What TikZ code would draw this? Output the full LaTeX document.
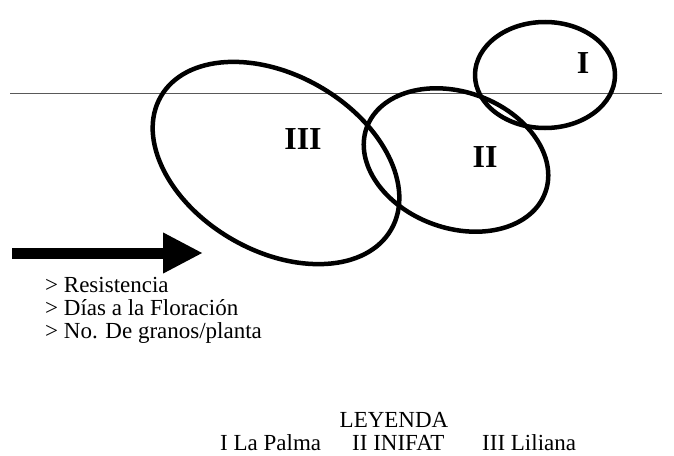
\documentclass[tikz,border=0pt]{standalone}
\usepackage{fontspec}
\setmainfont{Liberation Serif}
\usetikzlibrary{arrows.meta}

\tikzset{
  ring/.style={line width=4.5pt},
  numlbl/.style={font=\fontsize{32}{36}\selectfont\bfseries, inner sep=0pt},
  txt/.style={font=\fontsize{23}{27}\selectfont, inner sep=0pt}
}

\begin{document}
\begin{tikzpicture}[x=1pt, y=-1pt]
    \useasboundingbox (0,0) rectangle (674,455);

    % --- Reference line ---
    \coordinate (l0) at (10,93);
    \coordinate (l1) at (662,93);
    \draw[gray!70!black, line width=1pt] (l0) -- (l1);

    % --- Groups ---
    \coordinate (c1) at (545,75);
    \coordinate (c2) at (456,160);
    \coordinate (c3) at (276,163);
    \draw[ring] (c3) ellipse [x radius=133, y radius=88, rotate=-30];
    \draw[ring] (c2) ellipse [x radius=95, y radius=68, rotate=-20];
    \draw[ring] (c1) ellipse [x radius=70, y radius=53];

    \node[numlbl] (g1) at (583,63) {I};
    \node[numlbl] (g2) at (485,157) {II};
    \node[numlbl] (g3) at (303,139) {III};

    % --- Arrow and traits ---
    \coordinate (tail) at (12,253);
    \coordinate (tip) at (203,253);
    \draw[line width=11pt, -{Triangle[length=40pt, width=38pt]}] (tail) -- (tip);

    \node[txt, anchor=base west] (t1) at (45,292) {> Resistencia};
    \node[txt, anchor=base west] (t2) at (45,315) {> Días a la Floración};
    \node[txt, anchor=base west] (t3) at (45,338) {> No. De granos/planta};

    % --- Legend ---
    \node[txt, anchor=base] (leg) at (394,427) {LEYENDA};
    \node[txt, anchor=base west] (k1) at (220,450) {I La Palma};
    \node[txt, anchor=base west] (k2) at (352,450) {II INIFAT};
    \node[txt, anchor=base west] (k3) at (482,450) {III Liliana};
\end{tikzpicture}
\end{document}
